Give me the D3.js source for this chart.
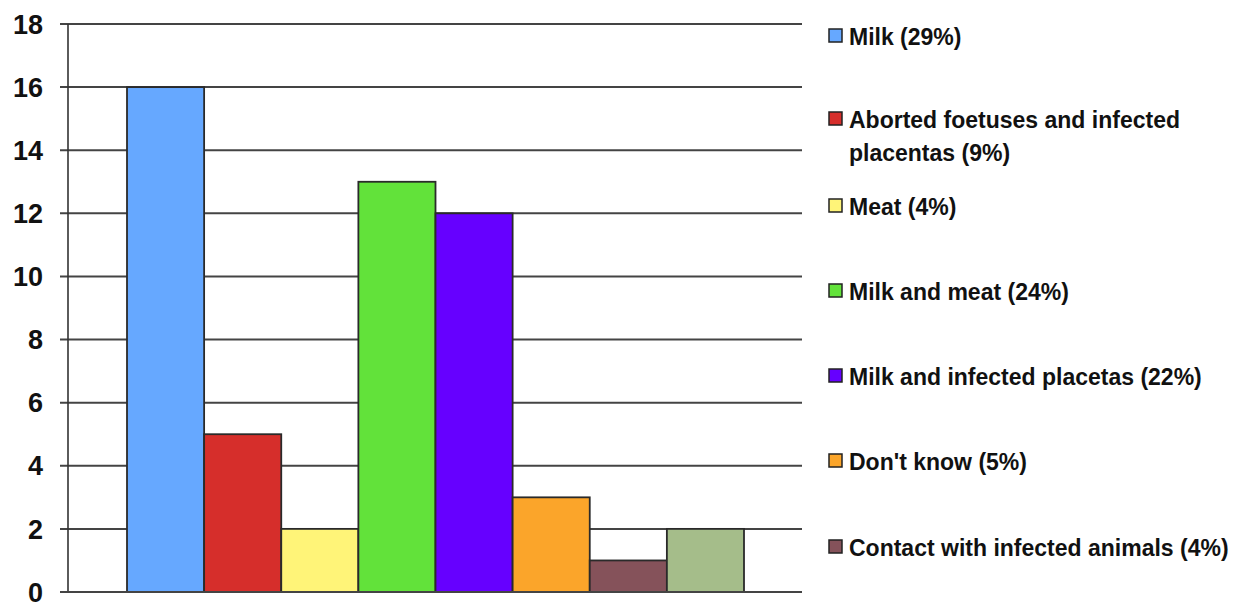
<!DOCTYPE html>
<html>
<head>
<meta charset="utf-8">
<script src="https://cdn.jsdelivr.net/npm/d3@7"></script>
<style>
  html, body { margin: 0; padding: 0; background: #fff; }
  svg { display: block; }
  text { font-family: "Liberation Sans", Arial, sans-serif; font-weight: bold; fill: #111; }
</style>
</head>
<body>
<svg id="chart" width="1243" height="609"></svg>
<script>
// Sources of infection named by respondents (counts)
const categories = [
  "Milk",
  "Aborted foetuses and infected placentas",
  "Meat",
  "Milk and meat",
  "Milk and infected placetas",
  "Don't know",
  "Contact with infected animals",
  "Other"
];
const counts = [16, 5, 2, 13, 12, 3, 1, 2];
const colors = ["#66a8ff", "#d62e2b", "#fff478", "#62e23a", "#6600ff", "#fba52a", "#85525a", "#a5bd8a"];
const legendLabels = [
  ["Milk (29%)"],
  ["Aborted foetuses and infected", "placentas (9%)"],
  ["Meat (4%)"],
  ["Milk and meat (24%)"],
  ["Milk and infected placetas (22%)"],
  ["Don't know (5%)"],
  ["Contact with infected animals (4%)"]
];
const yTicks = [0, 2, 4, 6, 8, 10, 12, 14, 16, 18];

const svg = d3.select("#chart");
const plot = { left: 68, right: 802, top: 24, bottom: 592 };

const y = d3.scaleLinear().domain([0, 18]).range([plot.bottom, plot.top]);
const x = d3.scaleBand().domain(categories).range([127, 744]).padding(0);

// Gridlines with short tick marks to the left of the axis
svg.append("g")
  .selectAll("line")
  .data(yTicks)
  .join("line")
  .attr("x1", plot.left - 8)
  .attr("x2", plot.right)
  .attr("y1", d => y(d))
  .attr("y2", d => y(d))
  .attr("stroke", "#444")
  .attr("stroke-width", 2);

// Vertical axis line
svg.append("line")
  .attr("x1", plot.left).attr("x2", plot.left)
  .attr("y1", y(18)).attr("y2", y(0))
  .attr("stroke", "#333").attr("stroke-width", 1.6);

// Tick labels
svg.append("g")
  .selectAll("text")
  .data(yTicks)
  .join("text")
  .attr("x", 43)
  .attr("y", d => y(d))
  .attr("dy", "0.36em")
  .attr("text-anchor", "end")
  .style("font-size", "27px")
  .text(d => d);

// Bars
svg.append("g")
  .selectAll("rect")
  .data(counts)
  .join("rect")
  .attr("x", (d, i) => x(categories[i]))
  .attr("y", d => y(d))
  .attr("width", x.bandwidth())
  .attr("height", d => y(0) - y(d))
  .attr("fill", (d, i) => colors[i])
  .attr("stroke", "#2a2a2a")
  .attr("stroke-width", 1.8);

// Baseline drawn over the bars
svg.append("line")
  .attr("x1", plot.left - 8).attr("x2", plot.right)
  .attr("y1", y(0)).attr("y2", y(0))
  .attr("stroke", "#444").attr("stroke-width", 2);

// Legend
const legendY = [37, 120, 207, 292, 377, 462, 548];
const legend = svg.append("g");
legendLabels.forEach((lines, i) => {
  const g = legend.append("g").attr("transform", `translate(0,${legendY[i]})`);
  g.append("rect")
    .attr("x", 829).attr("y", -8)
    .attr("width", 13).attr("height", 13)
    .attr("fill", colors[i])
    .attr("stroke", "#222").attr("stroke-width", 1.5);
  lines.forEach((line, j) => {
    g.append("text")
      .attr("x", 849)
      .attr("y", j * 33)
      .attr("dy", "0.36em")
      .style("font-size", "23px")
      .text(line);
  });
});
</script>
</body>
</html>
